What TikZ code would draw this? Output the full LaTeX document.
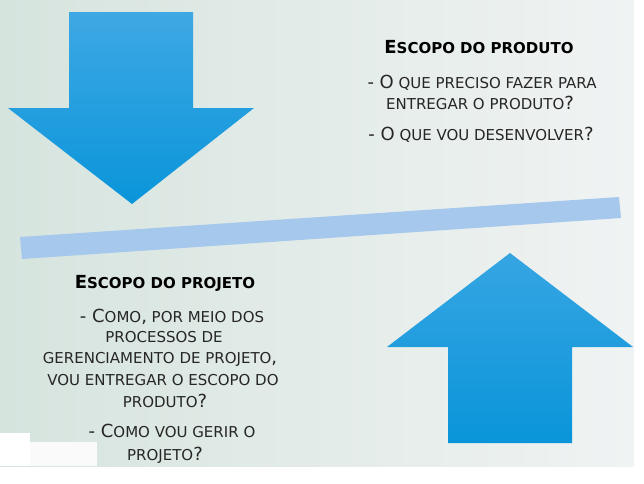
\documentclass[tikz,border=0pt]{standalone}
\usepackage{fontspec}
\setmainfont{DejaVu Sans}
\usepackage{tikz}

\definecolor{bgleft}{RGB}{214,228,222}
\definecolor{bgright}{RGB}{240,243,243}
\definecolor{arrowtop}{RGB}{62,168,228}
\definecolor{arrowbot}{RGB}{10,149,218}
\definecolor{barblue}{RGB}{166,200,236}
\definecolor{txtgray}{RGB}{38,38,38}

% first letters of the small caps text
\newcommand{\capbig}[1]{{\fontsize{18}{18}\selectfont #1}}

\begin{document}
\begin{tikzpicture}[x=1pt,y=-1pt]
\tikzset{txt/.style={anchor=base, inner sep=0pt, text=txtgray, font=\fontsize{15}{15}\selectfont},
  head/.style={txt, text=black, font=\fontsize{15}{15}\selectfont\bfseries}}
\useasboundingbox (0,0) rectangle (644,483);
% background
\fill [white] (0,0) rectangle (644,483);
\shade [left color=bgleft, right color=bgright] (0,0) rectangle (634,466);
\fill [white] (0,433) rectangle (30,466);
\fill [black!2] (30,442) rectangle (97,466);
% arrows
\shade [top color=arrowtop, bottom color=arrowbot] (69,12) -- (193,12) -- (193,108) -- (254,108)
  -- (132,204) -- (8,108) -- (69,108) -- cycle;
\shade [top color=arrowtop!85!arrowbot, bottom color=arrowbot] (510,253) -- (633,347) -- (572,347)
  -- (572,443) -- (448,443) -- (448,347) -- (387,347) -- cycle;
% bar
\fill [barblue] (20,237) -- (22,259) -- (621,218) -- (619,197) -- cycle;
% product scope
\node [head] (prodT) at (479,53) {\capbig{E}SCOPO DO PRODUTO};
\node [txt] (prodA) at (482,88) {\capbig{- O} QUE PRECISO FAZER PARA};
\node [txt] (prodB) at (480,109) {ENTREGAR O PRODUTO\capbig{?}};
\node [txt] (prodC) at (481,140) {\capbig{- O} QUE VOU DESENVOLVER\capbig{?}};
% project scope
\node [head] (projT) at (165,288) {\capbig{E}SCOPO DO PROJETO};
\node [txt] (projA) at (172,322) {\capbig{- C}OMO\capbig{,} POR MEIO DOS};
\node [txt] (projB) at (164,342) {PROCESSOS DE};
\node [txt] (projC) at (160,363) {GERENCIAMENTO DE PROJETO\capbig{,}};
\node [txt] (projD) at (163,385) {VOU ENTREGAR O ESCOPO DO};
\node [txt] (projE) at (165,407) {PRODUTO\capbig{?}};
\node [txt] (projF) at (172,437) {\capbig{- C}OMO VOU GERIR O};
\node [txt] (projG) at (165,460) {PROJETO\capbig{?}};
\end{tikzpicture}
\end{document}
